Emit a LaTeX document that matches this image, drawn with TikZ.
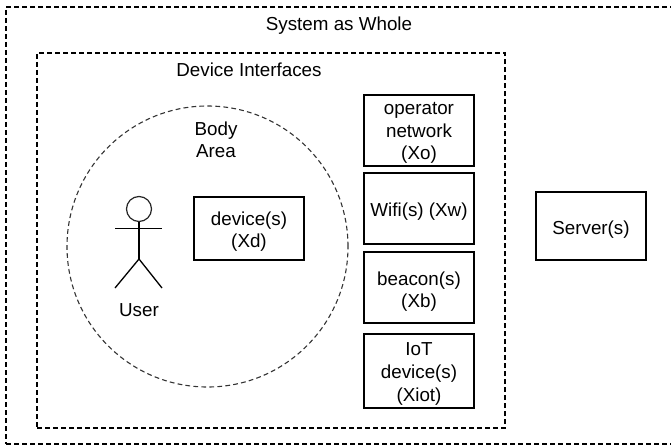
\documentclass[tikz,border=0pt]{standalone}
\usepackage{fontspec}
\setmainfont{Liberation Sans}
\begin{document}
\begin{tikzpicture}[x=1pt,y=-1pt,
  lbl/.style={font=\fontsize{18.8}{22.8}\selectfont, align=center, inner sep=0pt},
  boxshape/.style={draw, line width=1.3pt, minimum width=110pt, inner sep=0pt},
  dsh/.style={draw, line width=1.3pt, dash pattern=on 4.8pt off 3.2pt, inner sep=0pt},
  stick/.style={line width=1.3pt}]
\useasboundingbox (0,0) rectangle (671,447);
% containers
\node[dsh, minimum width=680pt, minimum height=437pt] (sys) at (346,225.5) {};
\node[dsh, minimum width=468pt, minimum height=375pt] (dev) at (271,240.5) {};
\node[dsh, circle, minimum size=281pt, line width=1.1pt, draw=black!80] (body) at (207.5,246.5) {};
% container labels
\node[lbl, anchor=base] (tsys) at (339,30.7) {System as Whole};
\node[lbl, anchor=base] (tdev) at (249,76) {Device Interfaces};
\node[lbl] (tbody) at (216,139.8) {Body\\Area};
% boxes
\node[boxshape, minimum height=63pt] (xd) at (249,228.5) {};
\node[lbl] (txd) at (249,231.6) {device(s)\\(Xd)};
\node[boxshape, minimum height=71pt] (xo) at (419,130.5) {};
\node[lbl] (txo) at (419,133) {operator\\network\\(Xo)};
\node[boxshape, minimum height=71pt] (xw) at (419,208.5) {};
\node[lbl, anchor=base] (txw) at (419,216.7) {Wifi(s) (Xw)};
\node[boxshape, minimum height=71pt] (xb) at (419,287.5) {};
\node[lbl] (txb) at (419,291.6) {beacon(s)\\(Xb)};
\node[boxshape, minimum height=74pt] (xiot) at (419,371) {};
\node[lbl] (txiot) at (419,373.7) {IoT\\device(s)\\(Xiot)};
\node[boxshape, minimum height=68pt] (srv) at (591,226) {};
\node[lbl, anchor=base] (tsrv) at (591,234) {Server(s)};
% user
\node[draw, circle, line width=1.2pt, minimum size=25pt, inner sep=0pt, draw=black!85] (head) at (139,209) {};
\coordinate (hip) at (139,259);
\draw[stick] (head.south) -- (hip);
\draw[stick] (115,228.3) -- (162,228.3);
\draw[stick] (115,288) -- (hip) -- (162,288);
\node[lbl, anchor=base] (tuser) at (139,316.7) {User};
\end{tikzpicture}
\end{document}
